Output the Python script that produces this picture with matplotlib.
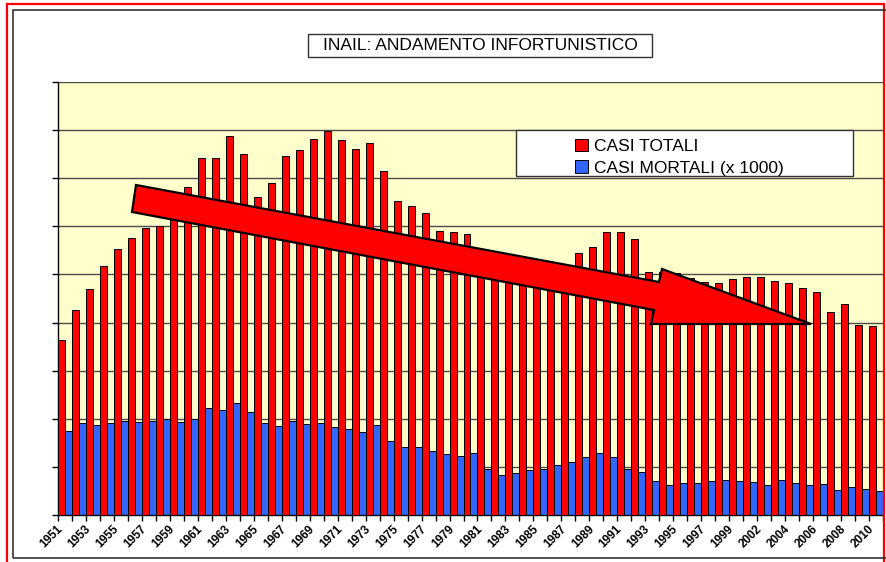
import matplotlib
matplotlib.use("Agg")
import matplotlib.pyplot as plt
import numpy as np
from matplotlib.patches import Rectangle, Polygon, Patch

plt.rcParams['font.family'] = ['Liberation Sans', 'DejaVu Sans']

years = list(range(1951, 2000)) + [2000] + list(range(2002, 2011))
casi_totali = [727, 852, 938, 1037, 1105, 1152, 1195, 1202, 1280, 1365,
               1483, 1483, 1577, 1501, 1321, 1382, 1493, 1518, 1563, 1598,
               1559, 1522, 1548, 1430, 1307, 1285, 1254, 1181, 1177, 1168,
               1070, 1040, 1020, 1000, 1000, 1010, 1030, 1088, 1113, 1175,
               1175, 1146, 1012, 1010, 1008, 984, 970, 963, 980, 988,
               988, 972, 963, 943, 929, 844, 877, 789, 785]
casi_mortali = [349, 384, 375, 384, 391, 388, 391, 399, 388, 398,
                444, 437, 464, 427, 381, 371, 391, 380, 384, 367,
                358, 345, 374, 308, 284, 281, 267, 252, 247, 257,
                190, 166, 173, 187, 190, 208, 220, 242, 257, 242,
                190, 178, 143, 123, 132, 132, 141, 146, 141, 136,
                125, 146, 132, 123, 128, 104, 115, 108, 98]
tick_labels = [str(y) for y in years[::2]]
title = "INAIL: ANDAMENTO INFORTUNISTICO"
series_names = ["CASI TOTALI", "CASI MORTALI (x 1000)"]

W, H = 887, 562
fig = plt.figure(figsize=(W / 100, H / 100), dpi=100)
fig.patch.set_facecolor('white')

def fx(x):
    return x / W

def fy(y):
    return 1 - y / H

# outer frames
fig.add_artist(Rectangle((fx(7), fy(600)), fx(884) - fx(7), fy(4) - fy(600),
                         transform=fig.transFigure, fill=False,
                         edgecolor='#ff0000', lw=1.6))
fig.add_artist(Rectangle((fx(13), fy(558)), fx(900) - fx(13), fy(10) - fy(558),
                         transform=fig.transFigure, fill=False,
                         edgecolor='#333333', lw=1.2))

ax = fig.add_axes([fx(58), fy(515), fx(883) - fx(58), fy(82) - fy(515)])
ax.set_facecolor('#ffffcc')

x = np.arange(len(years))
ax.bar(x - 0.25, casi_totali, width=0.5, color='#ff0000', edgecolor='black',
       linewidth=0.7, zorder=3)
ax.bar(x + 0.25, casi_mortali, width=0.5, color='#3366ff', edgecolor='black',
       linewidth=0.7, zorder=2)

ax.set_xlim(-0.5, len(years) - 0.5)
ax.set_ylim(0, 1800)
ax.set_yticks(np.arange(0, 1801, 200))
ax.set_yticklabels([])
ax.yaxis.grid(True, color='#4a4a4a', lw=1.0, zorder=0)
ax.set_axisbelow(True)
ax.tick_params(axis='y', direction='out', length=4, width=1, color='black')

ax.set_xticks(np.arange(len(years) + 1) - 0.5)
ax.set_xticklabels([])
ax.tick_params(axis='x', which='major', direction='out', length=4, width=1,
               color='black')
ax.set_xticks(x[::2] - 0.3, minor=True)
ax.set_xticklabels(tick_labels, minor=True, rotation=45, ha='right',
                   va='center', rotation_mode='anchor', fontsize=8.5,
                   fontweight='bold')
ax.tick_params(axis='x', which='minor', length=0, pad=9)

for s in ['top', 'right']:
    ax.spines[s].set_visible(False)
for s in ['left', 'bottom']:
    ax.spines[s].set_color('black')
    ax.spines[s].set_linewidth(1.0)

# decorative arrow (figure pixel coordinates)
arrow_px = [(136, 185), (659, 282), (662, 269), (811, 324),
            (651, 324), (654, 310), (132, 212)]
arrow = Polygon([(fx(a), fy(b)) for a, b in arrow_px], closed=True,
                transform=fig.transFigure, facecolor='#ff0000',
                edgecolor='black', lw=1.6, zorder=10)
fig.add_artist(arrow)

# title box
fig.add_artist(Rectangle((fx(308), fy(57)), fx(652) - fx(308), fy(34) - fy(57),
                         transform=fig.transFigure, facecolor='white',
                         edgecolor='#333333', lw=1.0))
fig.text(fx(480), fy(45), title, ha='center', va='center', fontsize=12.5)

# legend box
fig.add_artist(Rectangle((fx(516), fy(176)), fx(853) - fx(516), fy(130) - fy(176),
                         transform=fig.transFigure, facecolor='white',
                         edgecolor='#333333', lw=1.0, zorder=11))
handles = [Patch(facecolor='#ff0000', edgecolor='black', lw=0.7),
           Patch(facecolor='#3366ff', edgecolor='black', lw=0.7)]
leg = fig.legend(handles, series_names, loc='upper left',
                 bbox_to_anchor=(fx(566), fy(130)), frameon=False,
                 fontsize=12.5, handlelength=0.75, handleheight=0.75,
                 handletextpad=0.35, labelspacing=0.35, borderpad=0.0)
leg.set_zorder(12)

fig.savefig('out.png', dpi=100)
